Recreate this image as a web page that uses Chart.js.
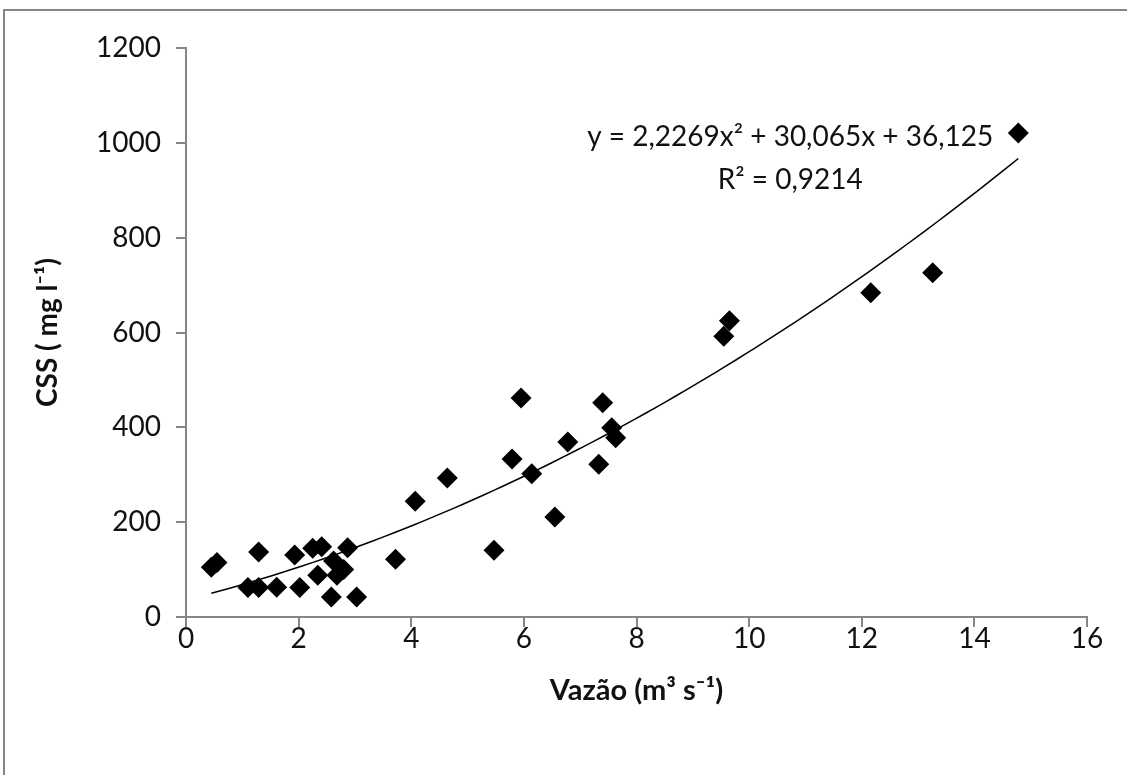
<!DOCTYPE html>
<html>
<head>
<meta charset="utf-8">
<script src="https://cdn.jsdelivr.net/npm/chart.js@4"></script>
<style>
  html, body { margin: 0; padding: 0; background: #fff; }
  #wrap { width: 1127px; height: 775px; position: relative; }
</style>
</head>
<body>
<div id="wrap"><canvas id="cv" width="1127" height="775"></canvas></div>
<script>
  // vazão (m3 s-1) and CSS (mg l-1)
  const vazao = [0.45, 0.55, 1.10, 1.29, 1.29, 1.61, 1.93, 2.02, 2.25, 2.41, 2.34, 2.58, 2.62, 2.68, 2.80, 2.87, 3.03,
                 3.72, 4.07, 4.64, 5.47, 5.79, 5.95, 6.14, 6.55, 6.78, 7.33, 7.40, 7.56, 7.63, 9.55, 9.65, 12.16, 13.26, 14.78];
  const css   = [105, 115, 62, 62, 137, 63, 131, 62, 145, 148, 88, 42, 118, 88, 100, 146, 42,
                 122, 244, 293, 141, 333, 462, 302, 211, 369, 322, 452, 399, 378, 592, 625, 684, 726, 1021];

  // polynomial trendline, coefficients as printed on the chart
  const coefA = 2.2269, coefB = 30.065, coefC = 36.125;
  const eqText = 'y = 2,2269x² + 30,065x + 36,125';
  const r2Text = 'R² = 0,9214';

  const xTitle = 'Vazão (m³ s⁻¹)';
  const yTitle = 'CSS ( mg l⁻¹)';

  const points = vazao.map((v, i) => ({ x: v, y: css[i] }));

  const xMin = Math.min(...vazao), xMax = Math.max(...vazao);
  const trend = [];
  for (let i = 0; i <= 80; i++) {
    const x = xMin + (xMax - xMin) * i / 80;
    trend.push({ x, y: coefA * x * x + coefB * x + coefC });
  }

  const AXIS = '#868686';
  const FONT = 'Lato, "Open Sans", sans-serif';

  // Excel-style chart area frame + equation label
  const extras = {
    id: 'extras',
    beforeDraw(chart) {
      const c = chart.ctx;
      c.save();
      c.strokeStyle = AXIS;
      c.lineWidth = 2;
      c.strokeRect(4, 10, 1300, 1000);
      c.restore();
    },
    afterDatasetsDraw(chart) {
      const c = chart.ctx, xs = chart.scales.x, ys = chart.scales.y;
      c.save();
      c.fillStyle = '#111';
      c.font = '28px ' + FONT;
      c.textAlign = 'center';
      c.textBaseline = 'middle';
      c.fillText(eqText, xs.getPixelForValue(10.73), ys.getPixelForValue(1012));
      c.fillText(r2Text, xs.getPixelForValue(10.73), ys.getPixelForValue(922));
      c.restore();
    }
  };

  new Chart(document.getElementById('cv').getContext('2d'), {
    type: 'scatter',
    data: {
      datasets: [
        { label: 'CSS', data: points, pointStyle: 'rectRot', pointRadius: 10.5, pointHoverRadius: 10.5,
          backgroundColor: '#000', borderColor: '#000', borderWidth: 0, order: 1 },
        { label: 'Poly', data: trend, showLine: true, pointRadius: 0, pointHoverRadius: 0,
          borderColor: '#000', borderWidth: 1.5, fill: false, order: 2 }
      ]
    },
    options: {
      responsive: false, animation: false,
      layout: { padding: { left: 0, top: 48, right: 40, bottom: 0 } },
      plugins: { legend: { display: false }, tooltip: { enabled: false } },
      scales: {
        x: {
          type: 'linear', min: 0, max: 16,
          ticks: { stepSize: 2, color: '#111', font: { family: FONT, size: 28 }, padding: -5,
                   callback: v => String(v) },
          grid: { drawOnChartArea: false, drawTicks: true, tickLength: 10, color: AXIS, lineWidth: 2 },
          border: { display: true, color: AXIS, width: 2 },
          title: { display: true, text: xTitle, color: '#111',
                   font: { family: FONT, size: 29, weight: 'bold' }, padding: { top: 0, bottom: 67 } },
          afterFit: s => { s.height = 158; }
        },
        y: {
          type: 'linear', min: 0, max: 1200,
          ticks: { stepSize: 200, color: '#111', font: { family: FONT, size: 28 }, padding: 15,
                   callback: v => String(v) },
          grid: { drawOnChartArea: false, drawTicks: true, tickLength: 10, color: AXIS, lineWidth: 2 },
          border: { display: true, color: AXIS, width: 2 },
          title: { display: true, text: yTitle, color: '#111',
                   font: { family: FONT, size: 28, weight: 'bold' }, padding: { top: 31, bottom: 0 } },
          afterFit: s => { s.width = 186; }
        }
      }
    },
    plugins: [extras]
  });
</script>
</body>
</html>
